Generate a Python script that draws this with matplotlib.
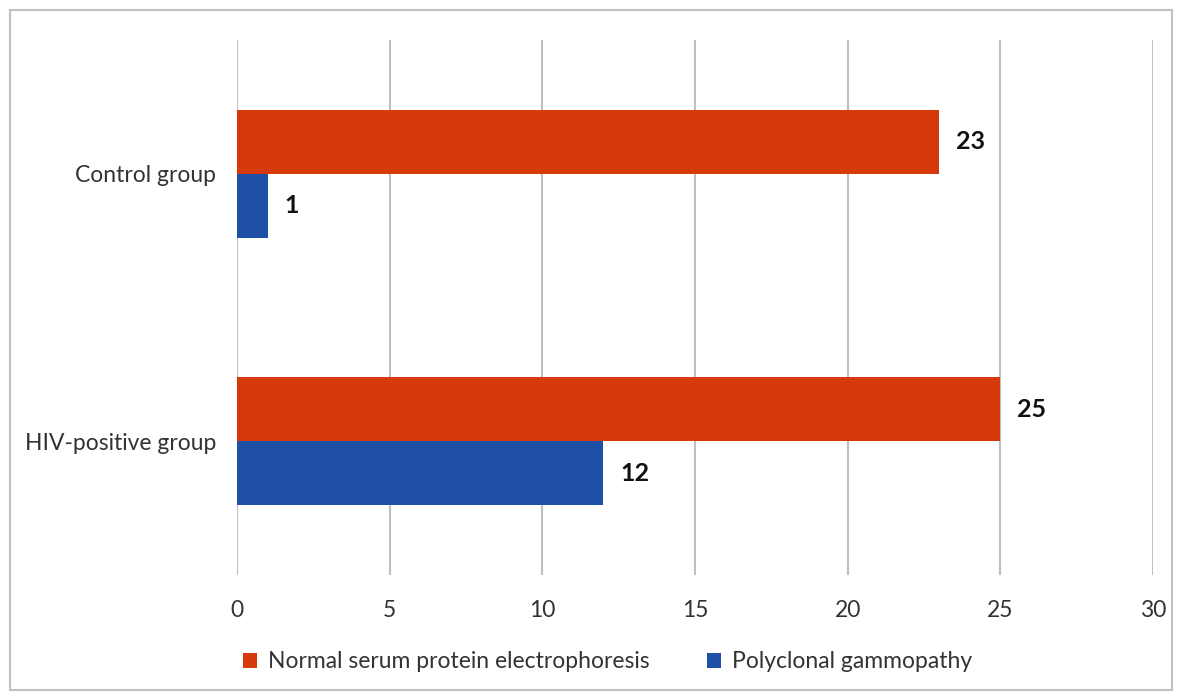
import matplotlib.pyplot as plt
from matplotlib.patches import Rectangle

plt.rcParams['font.family'] = ['Lato', 'DejaVu Sans']

groups = ['HIV-positive group', 'Control group']
normal = [25, 23]
polyclonal = [12, 1]
series_names = ['Normal serum protein electrophoresis', 'Polyclonal gammopathy']
red = '#D73A0A'
blue = '#1E50A8'

fig = plt.figure(figsize=(11.82, 6.96), dpi=100)
ax = fig.add_axes([0.2005, 0.1739, 0.775, 0.7686])

pos = list(range(len(groups)))
h = 0.239
b1 = ax.barh([p + h / 2 for p in pos], normal, height=h, color=red, label=series_names[0])
b2 = ax.barh([p - h / 2 for p in pos], polyclonal, height=h, color=blue, label=series_names[1])

for bars in (b1, b2):
    for r in bars:
        ax.text(r.get_width() + 0.55, r.get_y() + r.get_height() / 2, str(int(r.get_width())),
                va='center', ha='left', fontsize=18, fontweight='bold', color='#111111')

ax.set_xlim(0, 30)
ax.set_ylim(-0.5, 1.5)
ax.set_xticks(range(0, 31, 5))
ax.set_yticks(pos)
ax.set_yticklabels(groups)
ax.grid(axis='x', color='#bfbfbf', linewidth=1.5)
ax.set_axisbelow(True)
for s in ax.spines.values():
    s.set_visible(False)
ax.tick_params(length=0, labelsize=16.5, colors='#333333')
ax.tick_params(axis='x', pad=18)
ax.tick_params(axis='y', pad=15)

fig.legend(loc='center', bbox_to_anchor=(0.514, 0.049), ncol=2, frameon=False,
           fontsize=16.5, handlelength=0.6, handleheight=0.6, columnspacing=2.5, handletextpad=0.5,
           labelcolor='#333333')

fig.patches.append(Rectangle((0.0085, 0.008), 0.983, 0.978, transform=fig.transFigure,
                             fill=False, edgecolor='#c0c0c0', linewidth=1.5))

fig.savefig('out.png', dpi=100)
